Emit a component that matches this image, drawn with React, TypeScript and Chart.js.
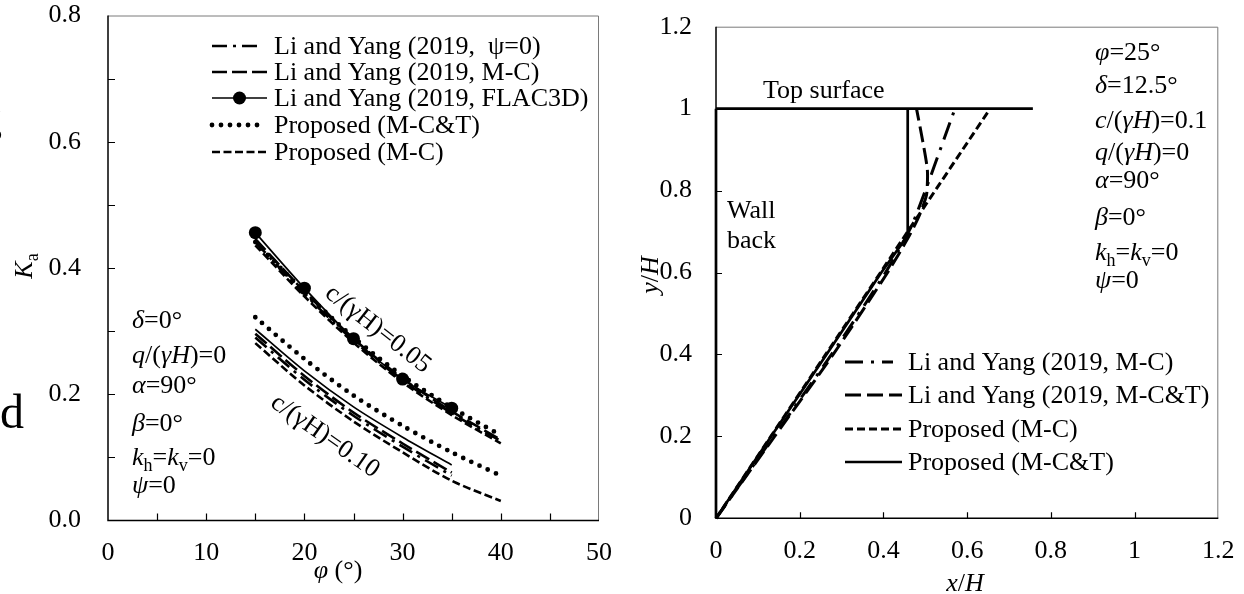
import React, { useEffect, useRef } from 'react';
import { Chart, registerables } from 'chart.js';

Chart.register(...registerables);

const FONT = '"Liberation Serif", "Times New Roman", serif';
const FS = 26;

// ---------------- Left chart data (Ka vs phi) ----------------
const phiTo40 = [15, 20, 25, 30, 35, 40];
const phiTo35 = [15, 20, 25, 30, 35];
// c/(gamma H) = 0.05
const liPsi0C005 = [0.441, 0.359, 0.285, 0.222, 0.170, 0.126];
const liMCC005 = [0.446, 0.363, 0.288, 0.225, 0.173, 0.128];
const flacC005 = [0.456, 0.368, 0.288, 0.224, 0.178];
const propMCTC005 = [0.441, 0.362, 0.290, 0.229, 0.179, 0.135];
const propMCC005 = [0.436, 0.355, 0.282, 0.219, 0.167, 0.122];
// c/(gamma H) = 0.10
const propMCTC010 = [0.322, 0.256, 0.198, 0.150, 0.108, 0.071];
const solidC010 = [0.303, 0.237, 0.180, 0.132, 0.088];
const liMCC010 = [0.296, 0.229, 0.171, 0.122, 0.076];
const liPsi0C010 = [0.290, 0.223, 0.166, 0.117, 0.071];
const propMCC010 = [0.281, 0.214, 0.157, 0.108, 0.063, 0.031];

const leftLegendLabels = [
  'Li and Yang (2019,  \u03c8=0)',
  'Li and Yang (2019, M-C)',
  'Li and Yang (2019, FLAC3D)',
  'Proposed (M-C&T)',
  'Proposed (M-C)',
];

// ---------------- Right chart data (slip surfaces) ----------------
const wallX = [0, 0];
const wallY = [0, 1];
const topX = [0, 0.757];
const topY = [1, 1];
const liMCX = [0, 0.138, 0.276, 0.405, 0.470, 0.571];
const liMCY = [0, 0.2, 0.4, 0.6, 0.72, 1.0];
const liMCTX = [0, 0.14, 0.28, 0.41, 0.462, 0.486, 0.503, 0.505, 0.494, 0.479];
const liMCTY = [0, 0.2, 0.4, 0.6, 0.69, 0.74, 0.79, 0.85, 0.92, 1.0];
const propMCX = [0, 0.131, 0.262, 0.393, 0.458, 0.655];
const propMCY = [0, 0.2, 0.4, 0.6, 0.70, 1.0];
const propMCTX = [0, 0.132, 0.264, 0.395, 0.458, 0.458];
const propMCTY = [0, 0.2, 0.4, 0.6, 0.69, 1.0];

const rightLegendLabels = [
  'Li and Yang (2019, M-C)',
  'Li and Yang (2019, M-C&T)',
  'Proposed (M-C)',
  'Proposed (M-C&T)',
];

// ---------------- helpers ----------------
type Seg = { t: string; it?: boolean; sub?: boolean };

function segFont(s: Seg, size: number) {
  const fs = s.sub ? Math.round(size * 0.68) : size;
  return `${s.it ? 'italic ' : ''}${fs}px ${FONT}`;
}
function richWidth(ctx: CanvasRenderingContext2D, segs: Seg[], size: number) {
  let w = 0;
  for (const s of segs) {
    ctx.font = segFont(s, size);
    w += ctx.measureText(s.t).width;
  }
  return w;
}
function drawRich(ctx: CanvasRenderingContext2D, segs: Seg[], x: number, y: number, size = FS, center = false) {
  ctx.save();
  ctx.fillStyle = '#000';
  ctx.textBaseline = 'alphabetic';
  ctx.textAlign = 'left';
  let cx = center ? x - richWidth(ctx, segs, size) / 2 : x;
  for (const s of segs) {
    ctx.font = segFont(s, size);
    ctx.fillText(s.t, cx, y + (s.sub ? size * 0.22 : 0));
    cx += ctx.measureText(s.t).width;
  }
  ctx.restore();
}
function drawRotated(ctx: CanvasRenderingContext2D, segs: Seg[], cx: number, cy: number, angle: number, size = FS) {
  ctx.save();
  ctx.translate(cx, cy);
  ctx.rotate(angle);
  drawRich(ctx, segs, 0, size * 0.33, size, true);
  ctx.restore();
}

type LineStyle = { dash: number[]; width: number; cap: CanvasLineCap; point?: boolean };
const stDashDot: LineStyle = { dash: [15, 6, 3, 6], width: 2.6, cap: 'butt' };
const stLongDash: LineStyle = { dash: [15, 5], width: 2.6, cap: 'butt' };
const stSolidPt: LineStyle = { dash: [], width: 1.7, cap: 'butt', point: true };
const stDotted: LineStyle = { dash: [0, 9], width: 4.8, cap: 'round' };
const stShortDash: LineStyle = { dash: [8, 3.5], width: 2.6, cap: 'butt' };

const rDashDot: LineStyle = { dash: [18, 8, 3, 8], width: 3, cap: 'butt' };
const rLongDash: LineStyle = { dash: [16, 6], width: 3, cap: 'butt' };
const rShortDash: LineStyle = { dash: [8, 4], width: 3, cap: 'butt' };
const rSolid: LineStyle = { dash: [], width: 2.7, cap: 'butt' };

function drawLegendLine(ctx: CanvasRenderingContext2D, st: LineStyle, x1: number, x2: number, y: number) {
  ctx.save();
  ctx.strokeStyle = '#000';
  ctx.lineWidth = st.width;
  ctx.lineCap = st.cap;
  ctx.setLineDash(st.dash);
  ctx.beginPath();
  ctx.moveTo(x1, y);
  ctx.lineTo(x2, y);
  ctx.stroke();
  if (st.point) {
    ctx.setLineDash([]);
    ctx.fillStyle = '#000';
    ctx.beginPath();
    ctx.arc((x1 + x2) / 2, y, 6.5, 0, Math.PI * 2);
    ctx.fill();
  }
  ctx.restore();
}

function ds(xs: number[], ys: number[], st: LineStyle, extra: any = {}) {
  return {
    data: xs.map((x, i) => ({ x, y: ys[i] })),
    showLine: true,
    borderColor: '#000',
    backgroundColor: '#000',
    borderWidth: st.width,
    borderDash: st.dash,
    borderCapStyle: st.cap,
    borderJoinStyle: 'round',
    pointRadius: 0,
    tension: 0.3,
    clip: false,
    ...extra,
  };
}

function drawFrame(chart: any, ticksX: number[], ticksY: number[], tickLen: number) {
  const { ctx, chartArea: a, scales } = chart;
  ctx.save();
  ctx.setLineDash([]);
  ctx.strokeStyle = '#7a7a7a';
  ctx.lineWidth = 1;
  ctx.beginPath();
  ctx.moveTo(a.left, a.top + 0.5);
  ctx.lineTo(a.right - 0.5, a.top + 0.5);
  ctx.lineTo(a.right - 0.5, a.bottom);
  ctx.stroke();
  ctx.strokeStyle = '#000';
  ctx.lineWidth = 1.5;
  ctx.beginPath();
  ctx.moveTo(a.left, a.top);
  ctx.lineTo(a.left, a.bottom);
  ctx.lineTo(a.right, a.bottom);
  ctx.stroke();
  ctx.lineWidth = 1.2;
  ctx.beginPath();
  for (const v of ticksX) {
    const px = Math.round(scales.x.getPixelForValue(v)) + 0.5;
    ctx.moveTo(px, a.bottom);
    ctx.lineTo(px, a.bottom - tickLen);
  }
  for (const v of ticksY) {
    const py = Math.round(scales.y.getPixelForValue(v)) + 0.5;
    ctx.moveTo(a.left, py);
    ctx.lineTo(a.left + tickLen, py);
  }
  ctx.stroke();
  ctx.restore();
}

const tickFont = { family: FONT, size: FS };

const fitX = (h: number) => (s: any) => {
  s.height = h;
  s.paddingLeft = 0;
  s.paddingRight = 0;
  s.paddingTop = 0;
  s.paddingBottom = 0;
};
const fitY = (w: number) => (s: any) => {
  s.width = w;
  s.paddingLeft = 0;
  s.paddingRight = 0;
  s.paddingTop = 0;
  s.paddingBottom = 0;
};

function LeftChart() {
  const ref = useRef<HTMLCanvasElement>(null);
  useEffect(() => {
    const datasets: any[] = [
      ds(phiTo40, liPsi0C005, stDashDot),
      ds(phiTo40, liMCC005, stLongDash),
      ds(phiTo40, propMCTC005, stDotted),
      ds(phiTo40, propMCC005, stShortDash),
      ds(phiTo35, flacC005, stSolidPt, { pointRadius: 6.5, pointBackgroundColor: '#000', pointBorderWidth: 0 }),
      ds(phiTo40, propMCTC010, stDotted),
      ds(phiTo35, liMCC010, stLongDash),
      ds(phiTo35, liPsi0C010, stDashDot),
      ds(phiTo40, propMCC010, stShortDash),
      ds(phiTo35, solidC010, { dash: [], width: 1.7, cap: 'butt' }),
    ];
    const plugin = {
      id: 'leftDecor',
      beforeDatasetsDraw(chart: any) {
        drawFrame(chart, [5, 10, 15, 20, 25, 30, 35, 40, 45], [0.1, 0.2, 0.3, 0.4, 0.5, 0.6, 0.7], 7);
      },
      afterDraw(chart: any) {
        const ctx = chart.ctx as CanvasRenderingContext2D;
        const styles = [stDashDot, stLongDash, stSolidPt, stDotted, stShortDash];
        const ends = [257, 267, 267, 266, 267];
        const base = [54, 80, 106, 133, 160];
        styles.forEach((st, i) => {
          drawLegendLine(ctx, st, 212, ends[i], base[i] - 8);
          drawRich(ctx, [{ t: leftLegendLabels[i] }], 274, base[i]);
        });
        drawRich(ctx, [{ t: '\u03b4', it: true }, { t: '=0\u00b0' }], 132, 328);
        drawRich(ctx, [{ t: 'q', it: true }, { t: '/(' }, { t: '\u03b3H', it: true }, { t: ')=0' }], 132, 363);
        drawRich(ctx, [{ t: '\u03b1', it: true }, { t: '=90\u00b0' }], 132, 393);
        drawRich(ctx, [{ t: '\u03b2', it: true }, { t: '=0\u00b0' }], 132, 431);
        drawRich(ctx, [{ t: 'k', it: true }, { t: 'h', sub: true }, { t: '=' }, { t: 'k', it: true }, { t: 'v', sub: true }, { t: '=0' }], 132, 465);
        drawRich(ctx, [{ t: '\u03c8', it: true }, { t: '=0' }], 132, 493);
        drawRotated(ctx, [{ t: 'c/(\u03b3H)=0.05' }], 379, 328, (38 * Math.PI) / 180);
        drawRotated(ctx, [{ t: 'c/(\u03b3H)=0.10' }], 326, 435, (35 * Math.PI) / 180);
        ctx.save();
        ctx.translate(24, 266);
        ctx.rotate(-Math.PI / 2);
        drawRich(ctx, [{ t: 'K', it: true }, { t: 'a', sub: true }], 0, 8, FS, true);
        ctx.restore();
        drawRich(ctx, [{ t: '\u03c6', it: true }, { t: ' (\u00b0)' }], 338, 578, FS, true);
        drawRich(ctx, [{ t: 'g' }], -20, 133, 44);
        drawRich(ctx, [{ t: 'd' }], 0, 428, 48);
      },
    };
    const chart = new Chart(ref.current!, {
      type: 'scatter',
      data: { datasets },
      plugins: [plugin],
      options: {
        responsive: false,
        animation: false,
        events: [],
        layout: { padding: { left: 0, right: 41, top: 15.5, bottom: 0 } },
        plugins: { legend: { display: false }, tooltip: { enabled: false } },
        scales: {
          x: {
            type: 'linear',
            min: 0,
            max: 50,
            afterFit: fitX(73.5),
            grid: { display: false, drawTicks: false },
            border: { display: false },
            ticks: {
              stepSize: 5,
              autoSkip: false,
              maxRotation: 0,
              padding: 17,
              color: '#000',
              font: tickFont,
              callback: (v: any) => (Math.round(v) % 10 === 0 ? String(Math.round(v)) : ''),
            },
          },
          y: {
            type: 'linear',
            min: 0,
            max: 0.8,
            afterFit: fitY(108),
            grid: { display: false, drawTicks: false },
            border: { display: false },
            ticks: {
              stepSize: 0.1,
              autoSkip: false,
              padding: 27,
              color: '#000',
              font: tickFont,
              callback: (v: any) => {
                const r = Math.round(v * 10);
                return r % 2 === 0 ? (r / 10).toFixed(1) : '';
              },
            },
          },
        },
      } as any,
    });
    return () => chart.destroy();
  }, []);
  return <canvas ref={ref} width={640} height={594} style={{ position: 'absolute', left: 0, top: 0, width: 640, height: 594 }} />;
}

function RightChart() {
  const ref = useRef<HTMLCanvasElement>(null);
  useEffect(() => {
    const datasets: any[] = [
      ds(wallX, wallY, rSolid, { tension: 0 }),
      ds(topX, topY, rSolid, { tension: 0 }),
      ds(liMCX, liMCY, rDashDot, { tension: 0.2 }),
      ds(liMCTX, liMCTY, rLongDash, { tension: 0.2 }),
      ds(propMCX, propMCY, rShortDash, { tension: 0.1 }),
      ds(propMCTX, propMCTY, rSolid, { tension: 0 }),
    ];
    const plugin = {
      id: 'rightDecor',
      beforeDatasetsDraw(chart: any) {
        drawFrame(chart, [0.2, 0.4, 0.6, 0.8, 1.0], [0.2, 0.4, 0.6, 0.8, 1.0], 6);
      },
      afterDraw(chart: any) {
        const ctx = chart.ctx as CanvasRenderingContext2D;
        const off = 620;
        const styles = [rDashDot, rLongDash, rShortDash, rSolid];
        const ends = [893, 902, 902, 902];
        const base = [370, 403, 437, 470];
        styles.forEach((st, i) => {
          drawLegendLine(ctx, st, 845 - off, ends[i] - off, base[i] - 8);
          drawRich(ctx, [{ t: rightLegendLabels[i] }], 908 - off, base[i]);
        });
        const bx = 1095 - off;
        drawRich(ctx, [{ t: '\u03c6', it: true }, { t: '=25\u00b0' }], bx, 60);
        drawRich(ctx, [{ t: '\u03b4', it: true }, { t: '=12.5\u00b0' }], bx, 93);
        drawRich(ctx, [{ t: 'c', it: true }, { t: '/(' }, { t: '\u03b3H', it: true }, { t: ')=0.1' }], bx, 128);
        drawRich(ctx, [{ t: 'q', it: true }, { t: '/(' }, { t: '\u03b3H', it: true }, { t: ')=0' }], bx, 160);
        drawRich(ctx, [{ t: '\u03b1', it: true }, { t: '=90\u00b0' }], bx, 188);
        drawRich(ctx, [{ t: '\u03b2', it: true }, { t: '=0\u00b0' }], bx, 225);
        drawRich(ctx, [{ t: 'k', it: true }, { t: 'h', sub: true }, { t: '=' }, { t: 'k', it: true }, { t: 'v', sub: true }, { t: '=0' }], bx, 260);
        drawRich(ctx, [{ t: '\u03c8', it: true }, { t: '=0' }], bx, 288);
        drawRich(ctx, [{ t: 'Top surface' }], 763 - off, 98);
        drawRich(ctx, [{ t: 'Wall' }], 727 - off, 218);
        drawRich(ctx, [{ t: 'back' }], 727 - off, 248);
        ctx.save();
        ctx.translate(650 - off, 275);
        ctx.rotate(-Math.PI / 2);
        drawRich(ctx, [{ t: 'y', it: true }, { t: '/' }, { t: 'H', it: true }], 0, 8, FS, true);
        ctx.restore();
        drawRich(ctx, [{ t: 'x', it: true }, { t: '/' }, { t: 'H', it: true }], 965 - off, 591, FS, true);
      },
    };
    const fmt = (v: any) => String(Math.round(v * 10) / 10);
    const chart = new Chart(ref.current!, {
      type: 'scatter',
      data: { datasets },
      plugins: [plugin],
      options: {
        responsive: false,
        animation: false,
        events: [],
        layout: { padding: { left: 0, right: 25.7, top: 26.7, bottom: 0 } },
        plugins: { legend: { display: false }, tooltip: { enabled: false } },
        scales: {
          x: {
            type: 'linear',
            min: 0,
            max: 1.2,
            afterFit: fitX(75.7),
            grid: { display: false, drawTicks: false },
            border: { display: false },
            ticks: { stepSize: 0.2, autoSkip: false, maxRotation: 0, padding: 17, color: '#000', font: tickFont, callback: fmt },
          },
          y: {
            type: 'linear',
            min: 0,
            max: 1.2,
            afterFit: fitY(96),
            grid: { display: false, drawTicks: false },
            border: { display: false },
            ticks: { stepSize: 0.2, autoSkip: false, padding: 24, color: '#000', font: tickFont, callback: fmt },
          },
        },
      } as any,
    });
    return () => chart.destroy();
  }, []);
  return <canvas ref={ref} width={624} height={594} style={{ position: 'absolute', left: 620, top: 0, width: 624, height: 594 }} />;
}

export default function App() {
  return (
    <div style={{ position: 'fixed', left: 0, top: 0, width: 1244, height: 594, background: '#fff', overflow: 'hidden' }}>
      <LeftChart />
      <RightChart />
    </div>
  );
}
